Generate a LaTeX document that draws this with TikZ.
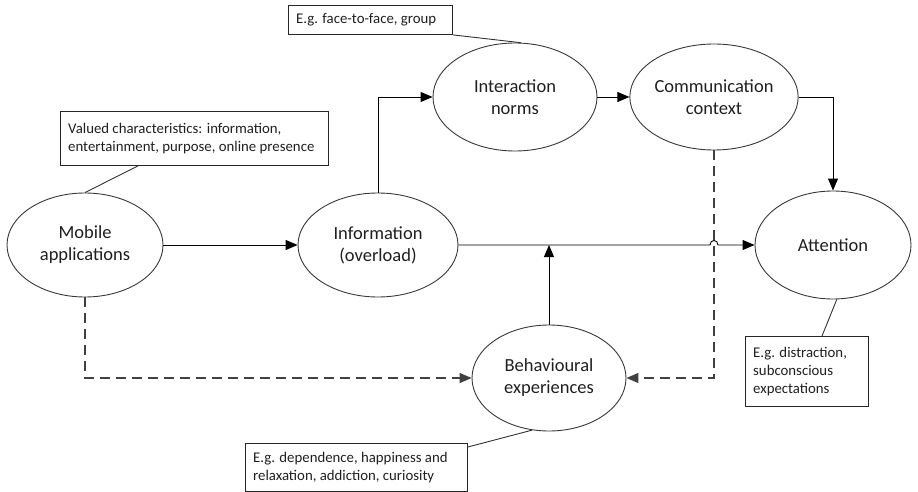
\documentclass[tikz,border=0pt]{standalone}
\usepackage{fontspec}
\setmainfont{Carlito}
\usetikzlibrary{arrows.meta,shapes.geometric}
\begin{document}
\begin{tikzpicture}[x=1pt,y=-1pt,
  ell/.style={ellipse, draw=black!78, line width=0.9pt, inner sep=0pt, align=center,
    text=black!88, font=\fontsize{18.5}{22}\selectfont},
  cbox/.style={draw=black!85, line width=0.9pt, inner sep=0pt, anchor=north west},
  ctext/.style={anchor=west, inner sep=0pt, align=left, text=black!88,
    font=\fontsize{14.8}{18}\selectfont},
  arr/.style={draw=black, line width=0.9pt, -{Triangle[length=12pt,width=10pt]}},
  darr/.style={draw=black!75, line width=1.4pt, dash pattern=on 10pt off 6pt,
    -{Triangle[length=12pt,width=10pt]}},
  cline/.style={draw=black!80, line width=0.9pt}]
\useasboundingbox (0,0) rectangle (918,492);
% ellipses
\node[ell, minimum width=156pt, minimum height=104pt] (mob) at (85,245) {Mobile\\applications};
\node[ell, minimum width=160pt, minimum height=104pt] (info) at (378,245) {Information\\(overload)};
\node[ell, minimum width=164pt, minimum height=108pt] (inter) at (515,97) {Interaction\\norms};
\node[ell, minimum width=158pt, minimum height=106pt] (comm) at (714,97) {Communication\\context};
\node[ell, minimum width=156pt, minimum height=108pt] (att) at (833,245) {Attention};
\node[ell, minimum width=154pt, minimum height=106pt] (beh) at (549,378) {Behavioural\\experiences};
% callout boxes
\node[cbox, minimum width=164pt, minimum height=29pt] (c1) at (288,5) {};
\node[ctext] (t1) at ([xshift=8pt]c1.west) {E.g. face-to-face, group};
\node[cbox, minimum width=268pt, minimum height=54pt] (c2) at (60,111) {};
\node[ctext] (t2) at ([xshift=8pt]c2.west) {Valued characteristics: information,\\entertainment, purpose, online presence};
\node[cbox, minimum width=123pt, minimum height=70pt] (c3) at (745,336) {};
\node[ctext] (t3) at ([xshift=8pt]c3.west) {E.g. distraction,\\subconscious\\expectations};
\node[cbox, minimum width=222pt, minimum height=48pt] (c4) at (245,443) {};
\node[ctext] (t4) at ([xshift=8pt]c4.west) {E.g. dependence, happiness and\\relaxation, addiction, curiosity};
% callout lines
\draw[cline] (c1.south east) -- (inter.84);
\draw[cline] ([xshift=78pt]c2.south west) -- (mob.north);
\draw[cline] ([xshift=77pt]c3.north west) -- (att.-86);
\draw[cline] ([yshift=-4pt]c4.north east) -- (beh.-108);
% connectors
\coordinate (j1) at (710,245);
\coordinate (j2) at (718,245);
\draw[arr] (mob.east) -- (info.west);
\draw[arr] (info.east) -- (j1) .. controls (710,239) and (718,239) .. (j2) -- (att.west);
\draw[arr] (info.north) |- (inter.west);
\draw[arr] (inter.east) -- (comm.west);
\draw[arr] (comm.east) -| (att.north);
\draw[arr] (beh.north) -- (beh.north |- info.east);
\draw[darr] (mob.south) |- (beh.west);
\draw[darr] (comm.south) |- (beh.east);
\end{tikzpicture}
\end{document}
